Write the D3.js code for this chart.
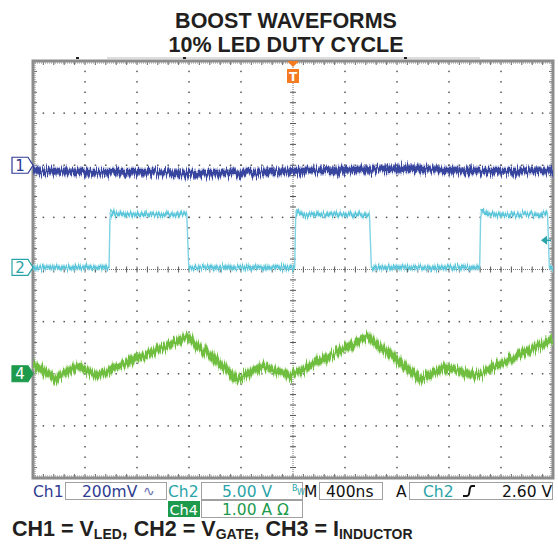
<!DOCTYPE html>
<html><head><meta charset="utf-8">
<script src="https://cdn.jsdelivr.net/npm/d3@7"></script>
<style>body{margin:0;background:#fff}svg{display:block}</style>
</head><body><svg id="c" width="558" height="546"></svg>
<script>
// ---------------- data ----------------
const titleLines = ["BOOST WAVEFORMS", "10% LED DUTY CYCLE"];
const timePerDivNs = 400;           // M 400ns
const nDivX = 10, nDivY = 8, minorPerDiv = 5;

// CH1 = V_LED, 200 mV/div, marker at +2 div (values in mV relative to marker)
const ch1VoltsPerDiv = 200;
const ch1OffsetDiv = 2;
const ch1Time = [0, 515, 900, 1285, 1669, 2054, 2438, 2823, 3208, 3592, 4000];
const ch1mV   = [-19, -27, -27, -31, -27, -23, -19, -12, -19, -23, -19];

// CH2 = V_GATE, 5 V/div, marker at ~0 div
const ch2VoltsPerDiv = 5;
const ch2OffsetDiv = 0.04;
const ch2Time = [0, 585, 592, 600, 625, 1183, 1198, 2013, 2020, 2028, 2055, 2588, 2603, 3436, 3443, 3451, 3478, 3958, 3972, 4000];
const ch2V    = [0, 0, 4.6, 5.5, 5.1, 5.1, 0, 0, 4.6, 5.5, 5.1, 5.1, 0, 0, 4.6, 5.5, 5.1, 5.1, 0, 0];
const triggerLevelV = 2.60;

// CH4 = I_INDUCTOR, 1.00 A/div, marker at -2 div (values in A relative to marker)
const ch4AmpsPerDiv = 1;
const ch4OffsetDiv = -2;
const ch4Time = [0, 169, 346, 492, 1185, 1577, 1769, 1977, 2577, 2977, 3169, 3400, 4000];
const ch4A    = [0.18, -0.10, 0.15, -0.04, 0.71, -0.10, 0.15, -0.04, 0.71, -0.10, 0.13, -0.04, 0.67];

const statusRow1 = {ch1: "Ch1", ch1Scale: "200mV", ch2: "Ch2", ch2Scale: "5.00 V", timebase: "400ns", trigSrc: "Ch2", trigLevel: "2.60 V"};
const statusRow2 = {ch4: "Ch4", ch4Scale: "1.00 A Ω"};
const caption = [["CH1 = V", "LED"], [", CH2 = V", "GATE"], [", CH3 = I", "INDUCTOR"]];

// ---------------- drawing ----------------
const C1 = "#37459e", C2 = "#5cc6da", C2t = "#2aa3a8", C4 = "#6fbe40", C4d = "#1d9a4c", ORANGE = "#f47b20";
const C1text = "#2e3b92";
const svg = d3.select("#c");
const L = 33, R = 553, T = 61, B = 478;
const x = d3.scaleLinear().domain([0, nDivX * timePerDivNs]).range([L, R]);
const y = d3.scaleLinear().domain([-nDivY / 2, nDivY / 2]).range([B, T]);

const defs = svg.append("defs");
defs.append("clipPath").attr("id", "plotclip").append("rect")
  .attr("x", L).attr("y", T).attr("width", R - L).attr("height", B - T);
function noiseFilter(id, fx, seed, scale) {
  const f = defs.append("filter").attr("id", id).attr("filterUnits", "userSpaceOnUse")
    .attr("x", 0).attr("y", 0).attr("width", 558).attr("height", 546)
    .attr("color-interpolation-filters", "sRGB");
  f.append("feTurbulence").attr("type", "fractalNoise").attr("baseFrequency", fx + " 0.03")
    .attr("numOctaves", 2).attr("seed", seed).attr("result", "t");
  f.append("feColorMatrix").attr("in", "t").attr("type", "matrix")
    .attr("values", "0 0 0 0 0.5  0 1 0 0 0  0 0 1 0 0  0 0 0 0 1").attr("result", "n");
  f.append("feDisplacementMap").attr("in", "SourceGraphic").attr("in2", "n")
    .attr("scale", scale).attr("xChannelSelector", "R").attr("yChannelSelector", "G");
}
noiseFilter("n1", 1.2, 3, 14);
noiseFilter("n2", 1.2, 7, 10);
noiseFilter("n4", 1.1, 11, 14);

// Title
svg.append("g").selectAll("text").data(titleLines).join("text")
  .attr("x", 286).attr("y", (d, i) => 28 + i * 24)
  .attr("text-anchor", "middle").attr("font-family", "Liberation Sans, Arial, sans-serif")
  .attr("font-weight", "bold").attr("font-size", 21.5).attr("fill", "#231f20").text(d => d);

// record bar above frame
svg.append("line").attr("x1", 107).attr("x2", 480).attr("y1", 58).attr("y2", 58)
  .attr("stroke", "#bbb").attr("stroke-width", 1);
svg.append("g").selectAll("rect").data([77, 184, 405]).join("rect")
  .attr("x", d => d - 1).attr("y", 57).attr("width", 3).attr("height", 2).attr("fill", "#222");

// Grid
const grid = svg.append("g");
const minorXs = d3.range(0, nDivX * minorPerDiv + 1).map(k => x(k * timePerDivNs / minorPerDiv));
const minorYs = d3.range(0, nDivY * minorPerDiv + 1).map(k => y(-nDivY / 2 + k / minorPerDiv));
const majorXs = d3.range(1, nDivX).filter(i => i !== nDivX / 2).map(i => x(i * timePerDivNs));
const majorYs = d3.range(1, nDivY).filter(i => i !== nDivY / 2).map(i => y(-nDivY / 2 + i));
const dots = [];
majorXs.forEach(px => minorYs.forEach(py => dots.push([px, py])));
majorYs.forEach(py => minorXs.forEach(px => dots.push([px, py])));
grid.selectAll("rect.dot").data(dots).join("rect").attr("class", "dot")
  .attr("x", d => d[0] - 0.75).attr("y", d => d[1] - 0.75).attr("width", 1.5).attr("height", 1.5)
  .attr("fill", "#555");
// center cross
const cx = x(nDivX / 2 * timePerDivNs), cy = y(0);
grid.append("line").attr("x1", cx).attr("x2", cx).attr("y1", T).attr("y2", B)
  .attr("stroke", "#777").attr("stroke-width", 1).attr("stroke-dasharray", "1,1");
grid.append("line").attr("x1", L).attr("x2", R).attr("y1", cy).attr("y2", cy)
  .attr("stroke", "#777").attr("stroke-width", 1).attr("stroke-dasharray", "1,1");
grid.selectAll("line.cxt").data(minorYs).join("line").attr("class", "cxt")
  .attr("x1", cx - 3).attr("x2", cx + 3).attr("y1", d => d).attr("y2", d => d)
  .attr("stroke", "#555").attr("stroke-width", 1);
grid.selectAll("line.cyt").data(minorXs).join("line").attr("class", "cyt")
  .attr("y1", cy - 3).attr("y2", cy + 3).attr("x1", d => d).attr("x2", d => d)
  .attr("stroke", "#555").attr("stroke-width", 1);
// frame rulers
const ruler = svg.append("g").attr("stroke", "#666").attr("stroke-width", 1);
ruler.selectAll("line.t").data(minorXs).join("line").attr("class", "t")
  .attr("x1", d => d).attr("x2", d => d).attr("y1", T).attr("y2", T + 4);
ruler.selectAll("line.b").data(minorXs).join("line").attr("class", "b")
  .attr("x1", d => d).attr("x2", d => d).attr("y1", B - 4).attr("y2", B);
ruler.selectAll("line.l").data(minorYs).join("line").attr("class", "l")
  .attr("x1", L).attr("x2", L + 4).attr("y1", d => d).attr("y2", d => d);
ruler.selectAll("line.r").data(minorYs).join("line").attr("class", "r")
  .attr("x1", R - 4).attr("x2", R).attr("y1", d => d).attr("y2", d => d);
[[L, T + 2, R, T + 2], [L, B - 2, R, B - 2], [L + 2, T, L + 2, B], [R - 2, T, R - 2, B]].forEach(s =>
  ruler.append("line").attr("x1", s[0]).attr("y1", s[1]).attr("x2", s[2]).attr("y2", s[3])
    .attr("stroke-dasharray", "1,1").attr("stroke", "#888"));
svg.append("rect").attr("x", L).attr("y", T).attr("width", R - L).attr("height", B - T)
  .attr("fill", "none").attr("stroke", "#8c8c8c").attr("stroke-width", 3);

// Traces
const traces = svg.append("g").attr("clip-path", "url(#plotclip)");
function drawTrace(times, vals, perDiv, offDiv, color, halo, w, filt, curve) {
  const line = d3.line().x((d, i) => x(times[i])).y(d => y(offDiv + d / perDiv)).curve(curve || d3.curveLinear);
  const g = traces.append("g");
  g.append("path").datum(vals).attr("d", line).attr("fill", "none").attr("stroke", halo)
    .attr("stroke-width", w + 3).attr("stroke-linejoin", "round").attr("opacity", 0.65).attr("filter", `url(#${filt})`);
  g.append("path").datum(vals).attr("d", line).attr("fill", "none").attr("stroke", color)
    .attr("stroke-width", w).attr("stroke-linejoin", "round").attr("filter", `url(#${filt})`);
}
drawTrace(ch1Time, ch1mV, ch1VoltsPerDiv, ch1OffsetDiv, C1, "#7d86c2", 6.5, "n1", d3.curveMonotoneX);
drawTrace(ch4Time, ch4A, ch4AmpsPerDiv, ch4OffsetDiv, C4, "#a9d98a", 7, "n4");

// Ch2: thin line for edges + noisy band on the flat levels
{
  const px = i => x(ch2Time[i]), py = i => y(ch2OffsetDiv + ch2V[i] / ch2VoltsPerDiv);
  const thin = d3.line().x((d, i) => px(i)).y((d, i) => py(i));
  traces.append("path").datum(ch2V).attr("d", thin).attr("fill", "none")
    .attr("stroke", "#7fd3e3").attr("stroke-width", 1.4);
  const flats = d3.range(ch2V.length - 1).filter(i => Math.abs(ch2V[i] - ch2V[i + 1]) < 0.5)
    .map(i => [[px(i), py(i)], [px(i + 1), py(i + 1)]]);
  const seg = d3.line();
  const g2 = traces.append("g").attr("filter", "url(#n2)");
  g2.selectAll("path.h").data(flats).join("path").attr("class", "h").attr("d", seg)
    .attr("stroke", "#a6e0ea").attr("stroke-width", 6.5).attr("opacity", 0.7);
  g2.selectAll("path.c").data(flats).join("path").attr("class", "c").attr("d", seg)
    .attr("stroke", C2).attr("stroke-width", 3.5);
}

// Channel markers
function marker(div, label, stroke, fill, textColor) {
  const py = y(div);
  const g = svg.append("g");
  g.append("path").attr("d", `M12,${py - 8}L28,${py - 8}L33,${py}L28,${py + 8}L12,${py + 8}Z`)
    .attr("fill", fill).attr("stroke", stroke).attr("stroke-width", 1.2);
  g.append("text").attr("x", 20).attr("y", py + 5.5).attr("text-anchor", "middle")
    .attr("font-family", "DejaVu Sans, sans-serif").attr("font-size", 15).attr("fill", textColor).text(label);
}
marker(ch1OffsetDiv, "1", C1text, "#fff", C1text);
marker(ch2OffsetDiv, "2", C2t, "#fff", C2t);
marker(ch4OffsetDiv, "4", C4d, C4d, "#fff");

// Trigger position marker (T) at center time
const tg = svg.append("g");
tg.append("path").attr("d", `M${cx - 6},${T}L${cx + 6},${T}L${cx},${T + 6}Z`).attr("fill", ORANGE);
tg.append("rect").attr("x", cx - 6).attr("y", T + 8).attr("width", 12).attr("height", 14).attr("fill", ORANGE);
tg.append("text").attr("x", cx).attr("y", T + 20).attr("text-anchor", "middle")
  .attr("font-family", "DejaVu Sans, sans-serif").attr("font-weight", "bold").attr("font-size", 12)
  .attr("fill", "#fff").text("T");
// Trigger level arrow (Ch2)
const ty = y(ch2OffsetDiv + triggerLevelV / ch2VoltsPerDiv);
svg.append("path").attr("d", `M541,${ty}L547,${ty - 4.5}L547,${ty + 4.5}Z`).attr("fill", C2t);
svg.append("line").attr("x1", 547).attr("x2", 551).attr("y1", ty).attr("y2", ty).attr("stroke", C2t).attr("stroke-width", 1.5);

// Status bar
const sb = svg.append("g").attr("font-family", "DejaVu Sans, sans-serif").attr("font-size", 15.5);
function box(x0, y0, w, h) {
  sb.append("rect").attr("x", x0 + 0.5).attr("y", y0 + 0.5).attr("width", w).attr("height", h)
    .attr("fill", "#fff").attr("stroke", "#a0a0a0").attr("stroke-width", 1);
}
function txt(x0, y0, s, col, extra) {
  const t = sb.append("text").attr("x", x0).attr("y", y0).attr("fill", col).text(s);
  if (extra) extra(t);
  return t;
}
box(65, 482, 101, 17);
box(201, 482, 101, 17);
box(319, 482, 63, 17);
box(409, 482, 143, 17);
box(201, 500, 101, 17);
txt(33, 497, statusRow1.ch1, C1text);
txt(82, 497, statusRow1.ch1Scale, C1text);
txt(143, 496, "∿", "#6d74b0", t => t.attr("font-size", 14));
txt(168, 497, statusRow1.ch2, C2t);
txt(222, 497, statusRow1.ch2Scale, C2t);
txt(292, 491, "B", C2t, t => t.attr("font-size", 8));
txt(297, 495, "W", C2t, t => t.attr("font-size", 8));
txt(304, 497, "M", "#111");
txt(326, 497, statusRow1.timebase, "#111");
txt(396, 497, "A", "#111");
txt(423, 497, statusRow1.trigSrc, C2t);
sb.append("path").attr("d", "M463,496 L467,496 Q469,496 469.5,491 Q470,486 472,486 L475,486")
  .attr("fill", "none").attr("stroke", "#111").attr("stroke-width", 2);
txt(502, 497, statusRow1.trigLevel, "#111");
sb.append("rect").attr("x", 168).attr("y", 501).attr("width", 32).attr("height", 16).attr("fill", C4d);
txt(169.5, 514.5, statusRow2.ch4, "#fff", t => t.attr("font-size", 14.5));
txt(222, 515, statusRow2.ch4Scale, C4d);

// Caption
const cap = svg.append("text").attr("x", 12).attr("y", 536)
  .attr("font-family", "Liberation Sans, Arial, sans-serif").attr("font-weight", "bold")
  .attr("font-size", 21.5).attr("fill", "#231f20");
caption.forEach(([main, sub], i) => {
  cap.append("tspan").attr("dy", i === 0 ? 0 : -3).text(main);
  cap.append("tspan").attr("font-size", 14).attr("dy", 3).text(sub);
});
</script></body></html>
